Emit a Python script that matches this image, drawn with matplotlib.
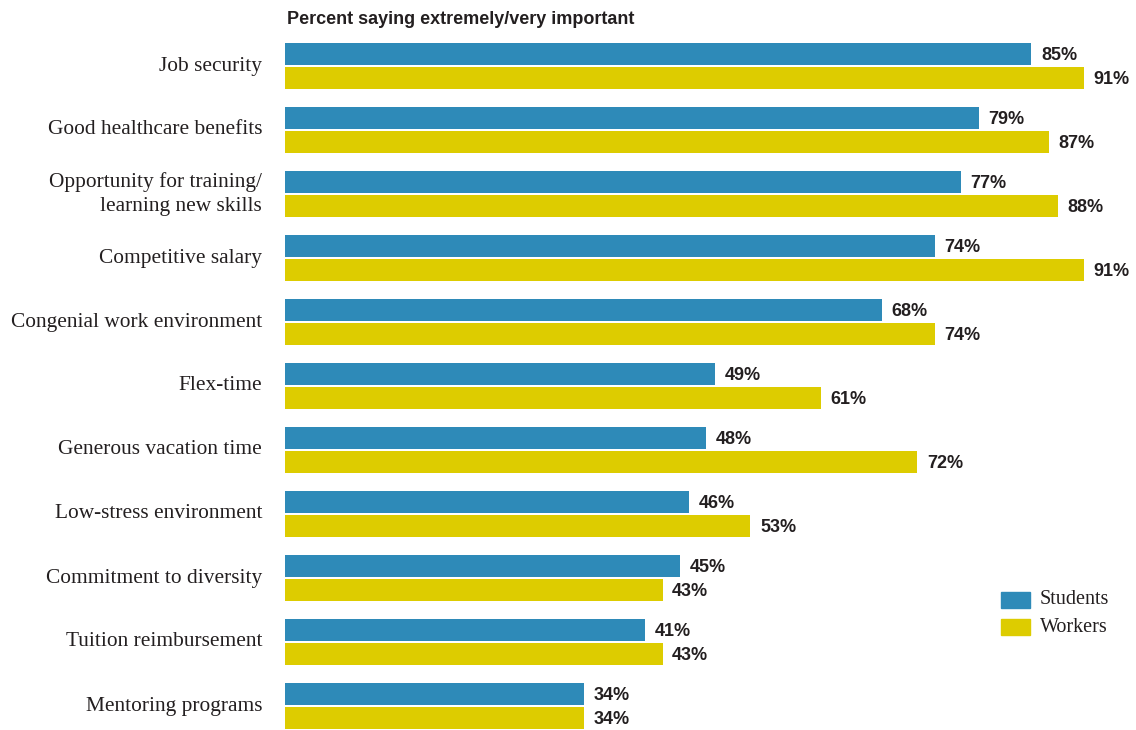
import numpy as np
import matplotlib.pyplot as plt
from matplotlib.patches import Rectangle

categories = ["Job security", "Good healthcare benefits",
              "Opportunity for training/\nlearning new skills", "Competitive salary",
              "Congenial work environment", "Flex-time", "Generous vacation time",
              "Low-stress environment", "Commitment to diversity",
              "Tuition reimbursement", "Mentoring programs"]
students = [85, 79, 77, 74, 68, 49, 48, 46, 45, 41, 34]
workers = [91, 87, 88, 91, 74, 61, 72, 53, 43, 43, 34]

blue = "#2E8AB8"
yellow = "#DDCC00"
dark = "#231f20"

W, H = 1136, 730
fig = plt.figure(figsize=(W / 100, H / 100), dpi=100)
ax = fig.add_axes([285 / W, 0, 1 - 285 / W, 1 - 34 / H])

y = np.arange(len(categories))
h = 22 / 64
off = 12 / 64
ax.barh(y - off, students, height=h, color=blue)
ax.barh(y + off, workers, height=h, color=yellow)
ax.set_xlim(0, (W - 285) / 8.78)
ax.set_ylim(len(categories) - 1 + 24 / 64, -0.5)

for i in range(len(categories)):
    ax.text(students[i] + 1.1, y[i] - off + 0.02, f"{students[i]}%", va="center", ha="left",
            fontsize=13, fontweight="bold", color=dark, family="Liberation Sans")
    ax.text(workers[i] + 1.1, y[i] + off + 0.02, f"{workers[i]}%", va="center", ha="left",
            fontsize=13, fontweight="bold", color=dark, family="Liberation Sans")
    ax.text(-2.6, y[i], categories[i], va="center", ha="right", fontsize=15.4,
            color=dark, family="Liberation Serif", linespacing=1.36)

for s in ax.spines.values():
    s.set_visible(False)
ax.set_xticks([])
ax.set_yticks([])

fig.text(287 / W, 1 - 19 / H, "Percent saying extremely/very important", ha="left",
         va="center", fontsize=13, fontweight="bold", color=dark, family="Liberation Sans")

# legend
for k, (lab, col) in enumerate([("Students", blue), ("Workers", yellow)]):
    yy = 592 + k * 27
    fig.patches.append(Rectangle((1001 / W, 1 - (yy + 16) / H), 29 / W, 16 / H,
                                 transform=fig.transFigure, color=col))
    fig.text(1040 / W, 1 - (yy + 8) / H, lab, ha="left", va="center", fontsize=14.5,
             color=dark, family="Liberation Serif")

plt.savefig("out.png", dpi=100)
